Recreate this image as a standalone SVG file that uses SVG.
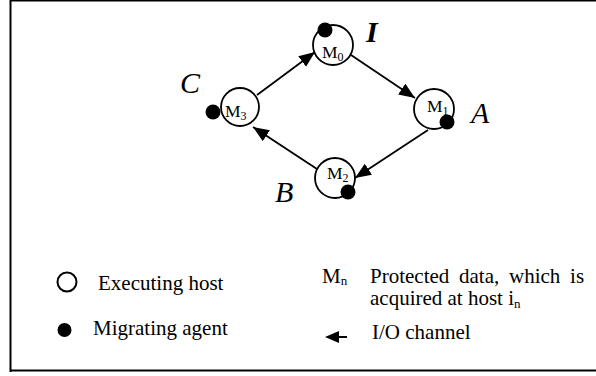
<svg xmlns="http://www.w3.org/2000/svg" width="596" height="376" viewBox="0 0 596 376">
<style>
  .host{fill:#fff;stroke:#000;stroke-width:1.8}
  .agent{fill:#000}
  .mt{font-family:"Liberation Serif","Times New Roman",serif;font-size:17.5px;fill:#000}
  .lbl{font-family:"Liberation Serif","Times New Roman",serif;font-size:30px;font-style:italic;fill:#000}
  .leg{font-family:"Liberation Serif","Times New Roman",serif;font-size:21px;fill:#000}
  .edge{stroke:#000;stroke-width:1.8;fill:none}
</style>
<defs>
  <marker id="ah" markerUnits="userSpaceOnUse" markerWidth="18" markerHeight="14" refX="16" refY="6.5" orient="auto">
    <path d="M0,0 L16,6.5 L0,13 Z" fill="#000"/>
  </marker>
</defs>
<rect width="596" height="376" fill="#fff"/>
<g id="frame" stroke="#000" fill="none">
  <line x1="10.5" y1="0" x2="10.5" y2="372" stroke-width="2"/>
  <line x1="10" y1="0.8" x2="596" y2="0.8" stroke-width="1.5"/>
  <line x1="10" y1="370.5" x2="596" y2="370.5" stroke-width="2.2"/>
</g>
<g id="connectors">
  <line class="edge" x1="257" y1="95" x2="315" y2="52" marker-end="url(#ah)"/>
  <line class="edge" x1="351" y1="55" x2="415" y2="98" marker-end="url(#ah)"/>
  <line class="edge" x1="428" y1="130" x2="355" y2="178" marker-end="url(#ah)"/>
  <line class="edge" x1="317" y1="169" x2="253" y2="127" marker-end="url(#ah)"/>
</g>
<g id="node-M0">
  <circle class="host" cx="333" cy="45" r="20"/>
  <circle class="agent" cx="325" cy="30" r="7.5"/>
  <text class="mt" x="322" y="58">M<tspan font-size="12" dy="3">0</tspan></text>
</g>
<g id="node-M1">
  <circle class="host" cx="434" cy="109" r="20"/>
  <circle class="agent" cx="447" cy="122" r="7.5"/>
  <text class="mt" x="427" y="112">M<tspan font-size="12" dy="3">1</tspan></text>
</g>
<g id="node-M2">
  <circle class="host" cx="335" cy="178" r="20"/>
  <circle class="agent" cx="348" cy="192" r="7.5"/>
  <text class="mt" x="327" y="179">M<tspan font-size="12" dy="3">2</tspan></text>
</g>
<g id="node-M3">
  <circle class="host" cx="240" cy="107" r="19"/>
  <circle class="agent" cx="213" cy="112" r="7.5"/>
  <text class="mt" x="225" y="117">M<tspan font-size="12" dy="3">3</tspan></text>
</g>
<g id="labels">
  <text class="lbl" x="180" y="93">C</text>
  <text class="lbl" x="471" y="123">A</text>
  <text class="lbl" x="275" y="202">B</text>
  <text class="lbl" x="366" y="42" font-weight="bold" font-size="25">I</text>
</g>
<g id="legend">
  <circle cx="67" cy="282" r="9.5" fill="none" stroke="#000" stroke-width="2"/>
  <text class="leg" x="98" y="290">Executing host</text>
  <circle cx="64.5" cy="330" r="7" fill="#000"/>
  <text class="leg" x="93" y="335">Migrating agent</text>
  <text class="leg" x="322" y="283">M<tspan font-size="13" dy="2">n</tspan></text>
  <text class="leg" x="370" y="283" word-spacing="4.5">Protected data, which is</text>
  <text class="leg" x="370" y="305">acquired at host i<tspan font-size="13" dy="3">n</tspan></text>
  <line x1="347" y1="337" x2="335" y2="337" stroke="#000" stroke-width="2"/>
  <path d="M325,337 L339,331 L339,343 Z" fill="#000"/>
  <text class="leg" x="372" y="339">I/O channel</text>
</g>
</svg>
